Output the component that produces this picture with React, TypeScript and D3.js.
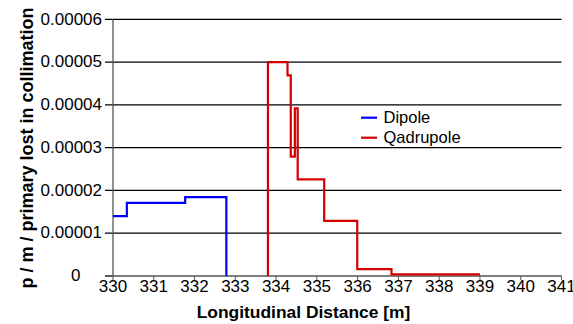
import React from "react";
import * as d3 from "d3";

const xTicks = [330, 331, 332, 333, 334, 335, 336, 337, 338, 339, 340, 341];
const yTicks = [0, 0.00001, 0.00002, 0.00003, 0.00004, 0.00005, 0.00006];
const yTickLabels = ["0", "0.00001", "0.00002", "0.00003", "0.00004", "0.00005", "0.00006"];

// Step series as (x, y) vertices
const dipoleX = [330, 330.34, 330.34, 331.77, 331.77, 332.78, 332.78];
const dipoleY = [1.4e-5, 1.4e-5, 1.71e-5, 1.71e-5, 1.845e-5, 1.845e-5, 0];

const quadX = [333.8, 333.8, 334.28, 334.28, 334.36, 334.36, 334.46, 334.46, 334.53, 334.53, 335.18, 335.18, 335.99, 335.99, 336.83, 336.83, 339];
const quadY = [0, 5.0e-5, 5.0e-5, 4.69e-5, 4.69e-5, 2.79e-5, 2.79e-5, 3.92e-5, 3.92e-5, 2.26e-5, 2.26e-5, 1.29e-5, 1.29e-5, 0.16e-5, 0.16e-5, 0.04e-5, 0.04e-5];

const seriesNames = ["Dipole", "Qadrupole"];
const seriesColors = ["#0000ff", "#d40000"];

export default function App() {
  const W = 573, H = 324;
  const left = 113, right = 561.5, top = 19.3, bottom = 276;
  const x = d3.scaleLinear().domain([330, 341]).range([left, right]);
  const y = d3.scaleLinear().domain([0, 0.00006]).range([bottom, top]);
  const mk = (xs: number[], ys: number[]) =>
    d3.line<number>().x((d) => x(d)).y((_, i) => y(ys[i]))(xs) || "";
  const font = "Arial, 'Liberation Sans', sans-serif";
  return (
    <svg width={W} height={H} style={{ position: "absolute", left: 0, top: 0 }} fontFamily={font}>
      <rect width={W} height={H} fill="#fff" />
      {yTicks.map((t, i) => (
        <g key={t}>
          <line x1={left - 8} x2={i > 0 ? right : left} y1={y(t)} y2={y(t)} stroke="#000" strokeWidth={1.3} />
          <text x={i === 0 ? 80.5 : 102} y={y(t) + 5.2} textAnchor="end" fontSize={17}>{yTickLabels[i]}</text>
        </g>
      ))}
      <line x1={left} x2={left} y1={top} y2={bottom} stroke="#555" strokeWidth={1.3} />
      <line x1={left} x2={right} y1={bottom} y2={bottom} stroke="#555" strokeWidth={1.3} />
      {xTicks.map((t) => (
        <g key={t}>
          <line x1={x(t)} x2={x(t)} y1={bottom} y2={bottom + 4} stroke="#555" strokeWidth={1} />
          <text x={x(t)} y={bottom + 16} textAnchor="middle" fontSize={17}>{t}</text>
        </g>
      ))}
      <path d={mk(dipoleX, dipoleY)} fill="none" stroke={seriesColors[0]} strokeWidth={2.2} />
      <path d={mk(quadX, quadY)} fill="none" stroke={seriesColors[1]} strokeWidth={2.2} />
      {seriesNames.map((n, i) => (
        <g key={n}>
          <line x1={361} x2={377} y1={117.7 + i * 20} y2={117.7 + i * 20} stroke={seriesColors[i]} strokeWidth={2.2} />
          <text x={383.5} y={123 + i * 20} fontSize={16.5}>{n}</text>
        </g>
      ))}
      <text x={303.5} y={318} textAnchor="middle" fontSize={17.4} fontWeight="bold">Longitudinal Distance [m]</text>
      <text transform="translate(33,148) rotate(-90)" textAnchor="middle" fontSize={18} fontWeight="bold">p / m / primary lost in collimation</text>
    </svg>
  );
}
